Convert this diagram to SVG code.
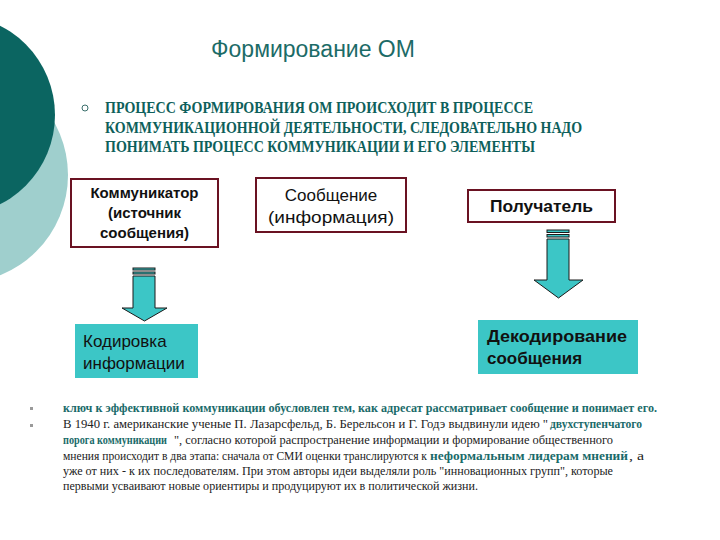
<svg xmlns="http://www.w3.org/2000/svg" width="720" height="540" viewBox="0 0 720 540">
<style>
.box{fill:#fff;stroke:#6a1222;stroke-width:2}
.tbox{fill:#3cc6c6}
.arr{fill:#3cc6c6;stroke:#1a1a1a;stroke-width:1}
.bt{font-family:"Liberation Sans",Arial,sans-serif;fill:#111}
.hd{font-family:"Liberation Serif","Times New Roman",serif;font-weight:bold;fill:#0e5f5b;font-size:16px}
.ft{font-family:"Liberation Serif","Times New Roman",serif;font-size:12px;fill:#222}
.fb{font-weight:bold;fill:#1a6b6a}
</style>
<rect width="720" height="540" fill="#fff"/>
<g id="decor">
<circle cx="-40" cy="175" r="108" fill="#9fcfcd"/>
<circle cx="-45" cy="115" r="100" fill="#0b6561"/>
</g>
<g id="title">
<text x="313" y="57" text-anchor="middle" font-family="'Liberation Sans',Arial,sans-serif" font-size="23" fill="#1c6b67">Формирование ОМ</text>
</g>
<g id="intro">
<circle cx="85" cy="108" r="3" fill="none" stroke="#3a6f6c" stroke-width="1"/>
<text class="hd" x="105" y="113" textLength="428" lengthAdjust="spacingAndGlyphs">ПРОЦЕСС ФОРМИРОВАНИЯ ОМ ПРОИСХОДИТ В ПРОЦЕССЕ</text>
<text class="hd" x="105" y="133" textLength="477" lengthAdjust="spacingAndGlyphs">КОММУНИКАЦИОННОЙ ДЕЯТЕЛЬНОСТИ, СЛЕДОВАТЕЛЬНО НАДО</text>
<text class="hd" x="105" y="152" textLength="430" lengthAdjust="spacingAndGlyphs">ПОНИМАТЬ ПРОЦЕСС КОММУНИКАЦИИ И ЕГО ЭЛЕМЕНТЫ</text>
</g>
<g id="communicator">
<rect class="box" x="71" y="179" width="147" height="68"/>
<text class="bt" x="144.5" y="198" text-anchor="middle" font-size="15" font-weight="bold">Коммуникатор</text>
<text class="bt" x="144.5" y="218" text-anchor="middle" font-size="15" font-weight="bold">(источник</text>
<text class="bt" x="144.5" y="238" text-anchor="middle" font-size="15" font-weight="bold">сообщения)</text>
</g>
<g id="message">
<rect class="box" x="256" y="178" width="150" height="54"/>
<text class="bt" x="331" y="201" text-anchor="middle" font-size="17">Сообщение</text>
<text class="bt" x="331" y="223" text-anchor="middle" font-size="17" textLength="126" lengthAdjust="spacingAndGlyphs">(информация)</text>
</g>
<g id="receiver">
<rect class="box" x="468" y="190" width="147" height="32"/>
<text class="bt" x="541.5" y="212" text-anchor="middle" font-size="16" font-weight="bold" textLength="103" lengthAdjust="spacingAndGlyphs">Получатель</text>
</g>
<g id="connectors">
<rect class="arr" x="133" y="268" width="22" height="2"/>
<rect class="arr" x="133" y="272" width="22" height="2"/>
<path class="arr" d="M133,276 H155 V308 H167 L144.5,321 L122,308 H133 Z"/>
<rect class="arr" x="547" y="230" width="22" height="2.5"/>
<rect class="arr" x="547" y="234.5" width="22" height="2.5"/>
<path class="arr" d="M547,239 H569 V280 H583 L558.5,298 L534,280 H547 Z"/>
</g>
<g id="encoding">
<rect class="tbox" x="75" y="324" width="123" height="54"/>
<text class="bt" x="83" y="347" font-size="17">Кодировка</text>
<text class="bt" x="83" y="369" font-size="17">информации</text>
</g>
<g id="decoding">
<rect class="tbox" x="478" y="320" width="160" height="54"/>
<text class="bt" x="487" y="342" font-size="17" font-weight="bold" textLength="140" lengthAdjust="spacingAndGlyphs">Декодирование</text>
<text class="bt" x="487" y="364" font-size="17" font-weight="bold">сообщения</text>
</g>
<g id="notes">
<rect x="30" y="407" width="3" height="3" fill="#9a9a9a"/>
<rect x="30" y="424" width="3" height="3" fill="#9a9a9a"/>
<text class="ft fb" x="63" y="412" textLength="594" lengthAdjust="spacingAndGlyphs">ключ к эффективной коммуникации обусловлен тем, как адресат рассматривает сообщение и понимает его.</text>
<text class="ft" x="63" y="428" textLength="485" lengthAdjust="spacingAndGlyphs">В 1940 г. американские ученые П. Лазарсфельд, Б. Берельсон и   Г. Годэ выдвинули идею "</text>
<text class="ft fb" x="550" y="428" textLength="92" lengthAdjust="spacingAndGlyphs">двухступенчатого</text>
<text class="ft fb" x="63" y="444" textLength="104" lengthAdjust="spacingAndGlyphs">порога коммуникации</text>
<text class="ft" x="174" y="444" textLength="439" lengthAdjust="spacingAndGlyphs">", согласно которой распространение информации и формирование общественного</text>
<text class="ft" x="63" y="460" textLength="364" lengthAdjust="spacingAndGlyphs">мнения происходит в два этапа: сначала от СМИ оценки транслируются к</text>
<text class="ft fb" x="430" y="460" textLength="198" lengthAdjust="spacingAndGlyphs">неформальным лидерам мнений</text>
<text class="ft" x="629" y="460" textLength="15" lengthAdjust="spacingAndGlyphs">, а</text>
<text class="ft" x="63" y="475" textLength="550" lengthAdjust="spacingAndGlyphs">уже от них - к их последователям. При этом авторы идеи выделяли роль "инновационных групп", которые</text>
<text class="ft" x="63" y="490" textLength="415" lengthAdjust="spacingAndGlyphs">первыми усваивают новые ориентиры и продуцируют их в политической жизни.</text>
</g>
</svg>
